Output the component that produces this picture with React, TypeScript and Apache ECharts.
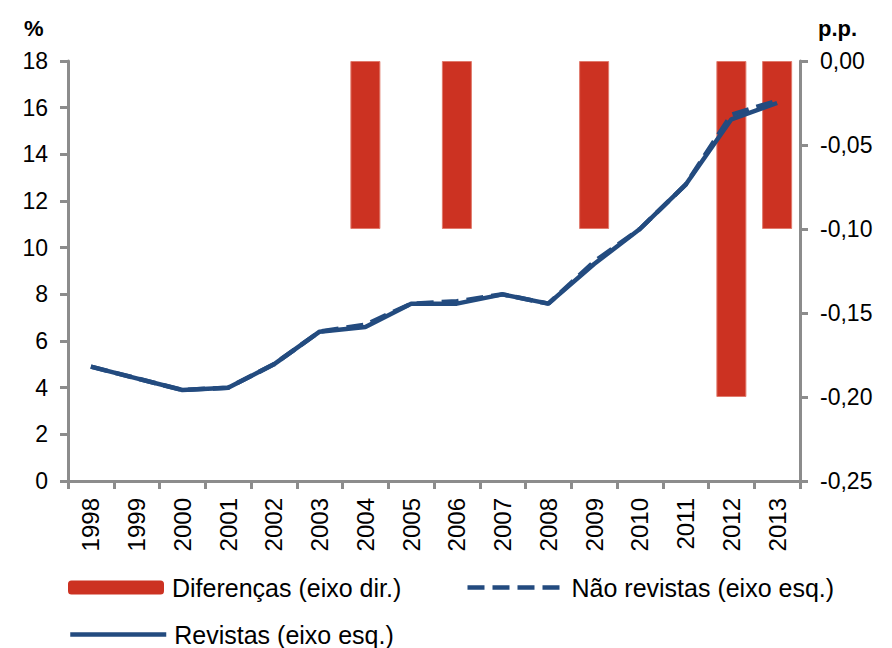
import React, { useEffect, useRef } from "react";
import * as echarts from "echarts";

const years = ["1998","1999","2000","2001","2002","2003","2004","2005","2006","2007","2008","2009","2010","2011","2012","2013"];
const revistas = [4.9, 4.4, 3.9, 4.0, 5.0, 6.4, 6.6, 7.6, 7.6, 8.0, 7.6, 9.3, 10.8, 12.7, 15.5, 16.2];
const naoRevistas = [4.9, 4.4, 3.9, 4.0, 5.0, 6.4, 6.7, 7.6, 7.7, 8.0, 7.6, 9.4, 10.8, 12.7, 15.7, 16.3];
const diferencas = [null, null, null, null, null, null, -0.1, null, -0.1, null, null, -0.1, null, null, -0.2, -0.1];

const nameDif = "Diferenças (eixo dir.)";
const nameNao = "Não revistas (eixo esq.)";
const nameRev = "Revistas (eixo esq.)";

const FONT = "'Liberation Sans', Arial, sans-serif";
const AXIS_COLOR = "#8c8c8c";
const LINE_COLOR = "#234b7f";
const BAR_COLOR = "#cc3222";

export default function App() {
  const ref = useRef<HTMLDivElement>(null);
  useEffect(() => {
    document.body.style.margin = "0";
    const chart = echarts.init(ref.current!, null, { renderer: "svg" });
    const axisLine = { show: true, lineStyle: { color: AXIS_COLOR, width: 3 } };
    const axisTick = { show: true, length: 8, lineStyle: { color: AXIS_COLOR, width: 3 } };
    const legendText = { fontSize: 25, color: "#000", fontFamily: FONT, padding: [0, 0, 0, 3] };
    chart.setOption({
      animation: false,
      textStyle: { fontFamily: FONT },
      grid: { left: 68, right: 92, top: 61, bottom: 167, containLabel: false },
      xAxis: {
        type: "category",
        data: years,
        boundaryGap: true,
        axisLine,
        axisTick,
        axisLabel: { rotate: 90, margin: 17, fontSize: 24, color: "#000", fontFamily: FONT, interval: 0 },
      },
      yAxis: [
        {
          type: "value",
          min: 0,
          max: 18,
          interval: 2,
          splitLine: { show: false },
          axisLine,
          axisTick,
          axisLabel: { margin: 20, fontSize: 23, color: "#000", fontFamily: FONT },
        },
        {
          type: "value",
          position: "right",
          min: -0.25,
          max: 0,
          interval: 0.05,
          splitLine: { show: false },
          axisLine,
          axisTick,
          axisLabel: {
            margin: 20,
            fontSize: 23,
            color: "#000",
            fontFamily: FONT,
            formatter: (v: number) => {
              const s = Math.abs(v) < 1e-9 ? "0.00" : v.toFixed(2);
              return s.replace(".", ",");
            },
          },
        },
      ],
      legend: [
        {
          data: [
            { name: nameDif, itemStyle: { borderWidth: 0, color: BAR_COLOR } },
            { name: nameNao, itemStyle: { opacity: 0 }, lineStyle: { width: 4.5, color: LINE_COLOR, type: [17, 8] } },
          ],
          left: 63,
          top: 570,
          itemWidth: 96,
          itemHeight: 14,
          itemGap: 64,
          textStyle: legendText,
          selectedMode: false,
        },
        {
          data: [{ name: nameRev, itemStyle: { opacity: 0 }, lineStyle: { width: 4.5, color: LINE_COLOR } }],
          left: 63,
          top: 617,
          itemWidth: 96,
          itemHeight: 14,
          textStyle: legendText,
          selectedMode: false,
        },
      ],
      graphic: [
        { type: "text", left: 24, top: 17, style: { text: "%", font: `bold 22px ${FONT}`, fill: "#000" } },
        { type: "text", left: 818, top: 17, style: { text: "p.p.", font: `bold 22px ${FONT}`, fill: "#000" } },
      ],
      series: [
        {
          name: nameDif,
          type: "bar",
          yAxisIndex: 1,
          data: diferencas,
          barWidth: 30,
          itemStyle: { color: BAR_COLOR, borderColor: "#e07a6c", borderWidth: 1 },
          z: 1,
        },
        {
          name: nameNao,
          type: "line",
          yAxisIndex: 0,
          data: naoRevistas,
          symbol: "none",
          lineStyle: { color: LINE_COLOR, width: 4.5, type: [17, 8] },
          itemStyle: { color: LINE_COLOR },
          z: 3,
        },
        {
          name: nameRev,
          type: "line",
          yAxisIndex: 0,
          data: revistas,
          symbol: "none",
          lineStyle: { color: LINE_COLOR, width: 4.5, type: "solid" },
          itemStyle: { color: LINE_COLOR },
          z: 2,
        },
      ],
    });
    return () => chart.dispose();
  }, []);
  return <div ref={ref} style={{ width: 892, height: 648 }} />;
}
